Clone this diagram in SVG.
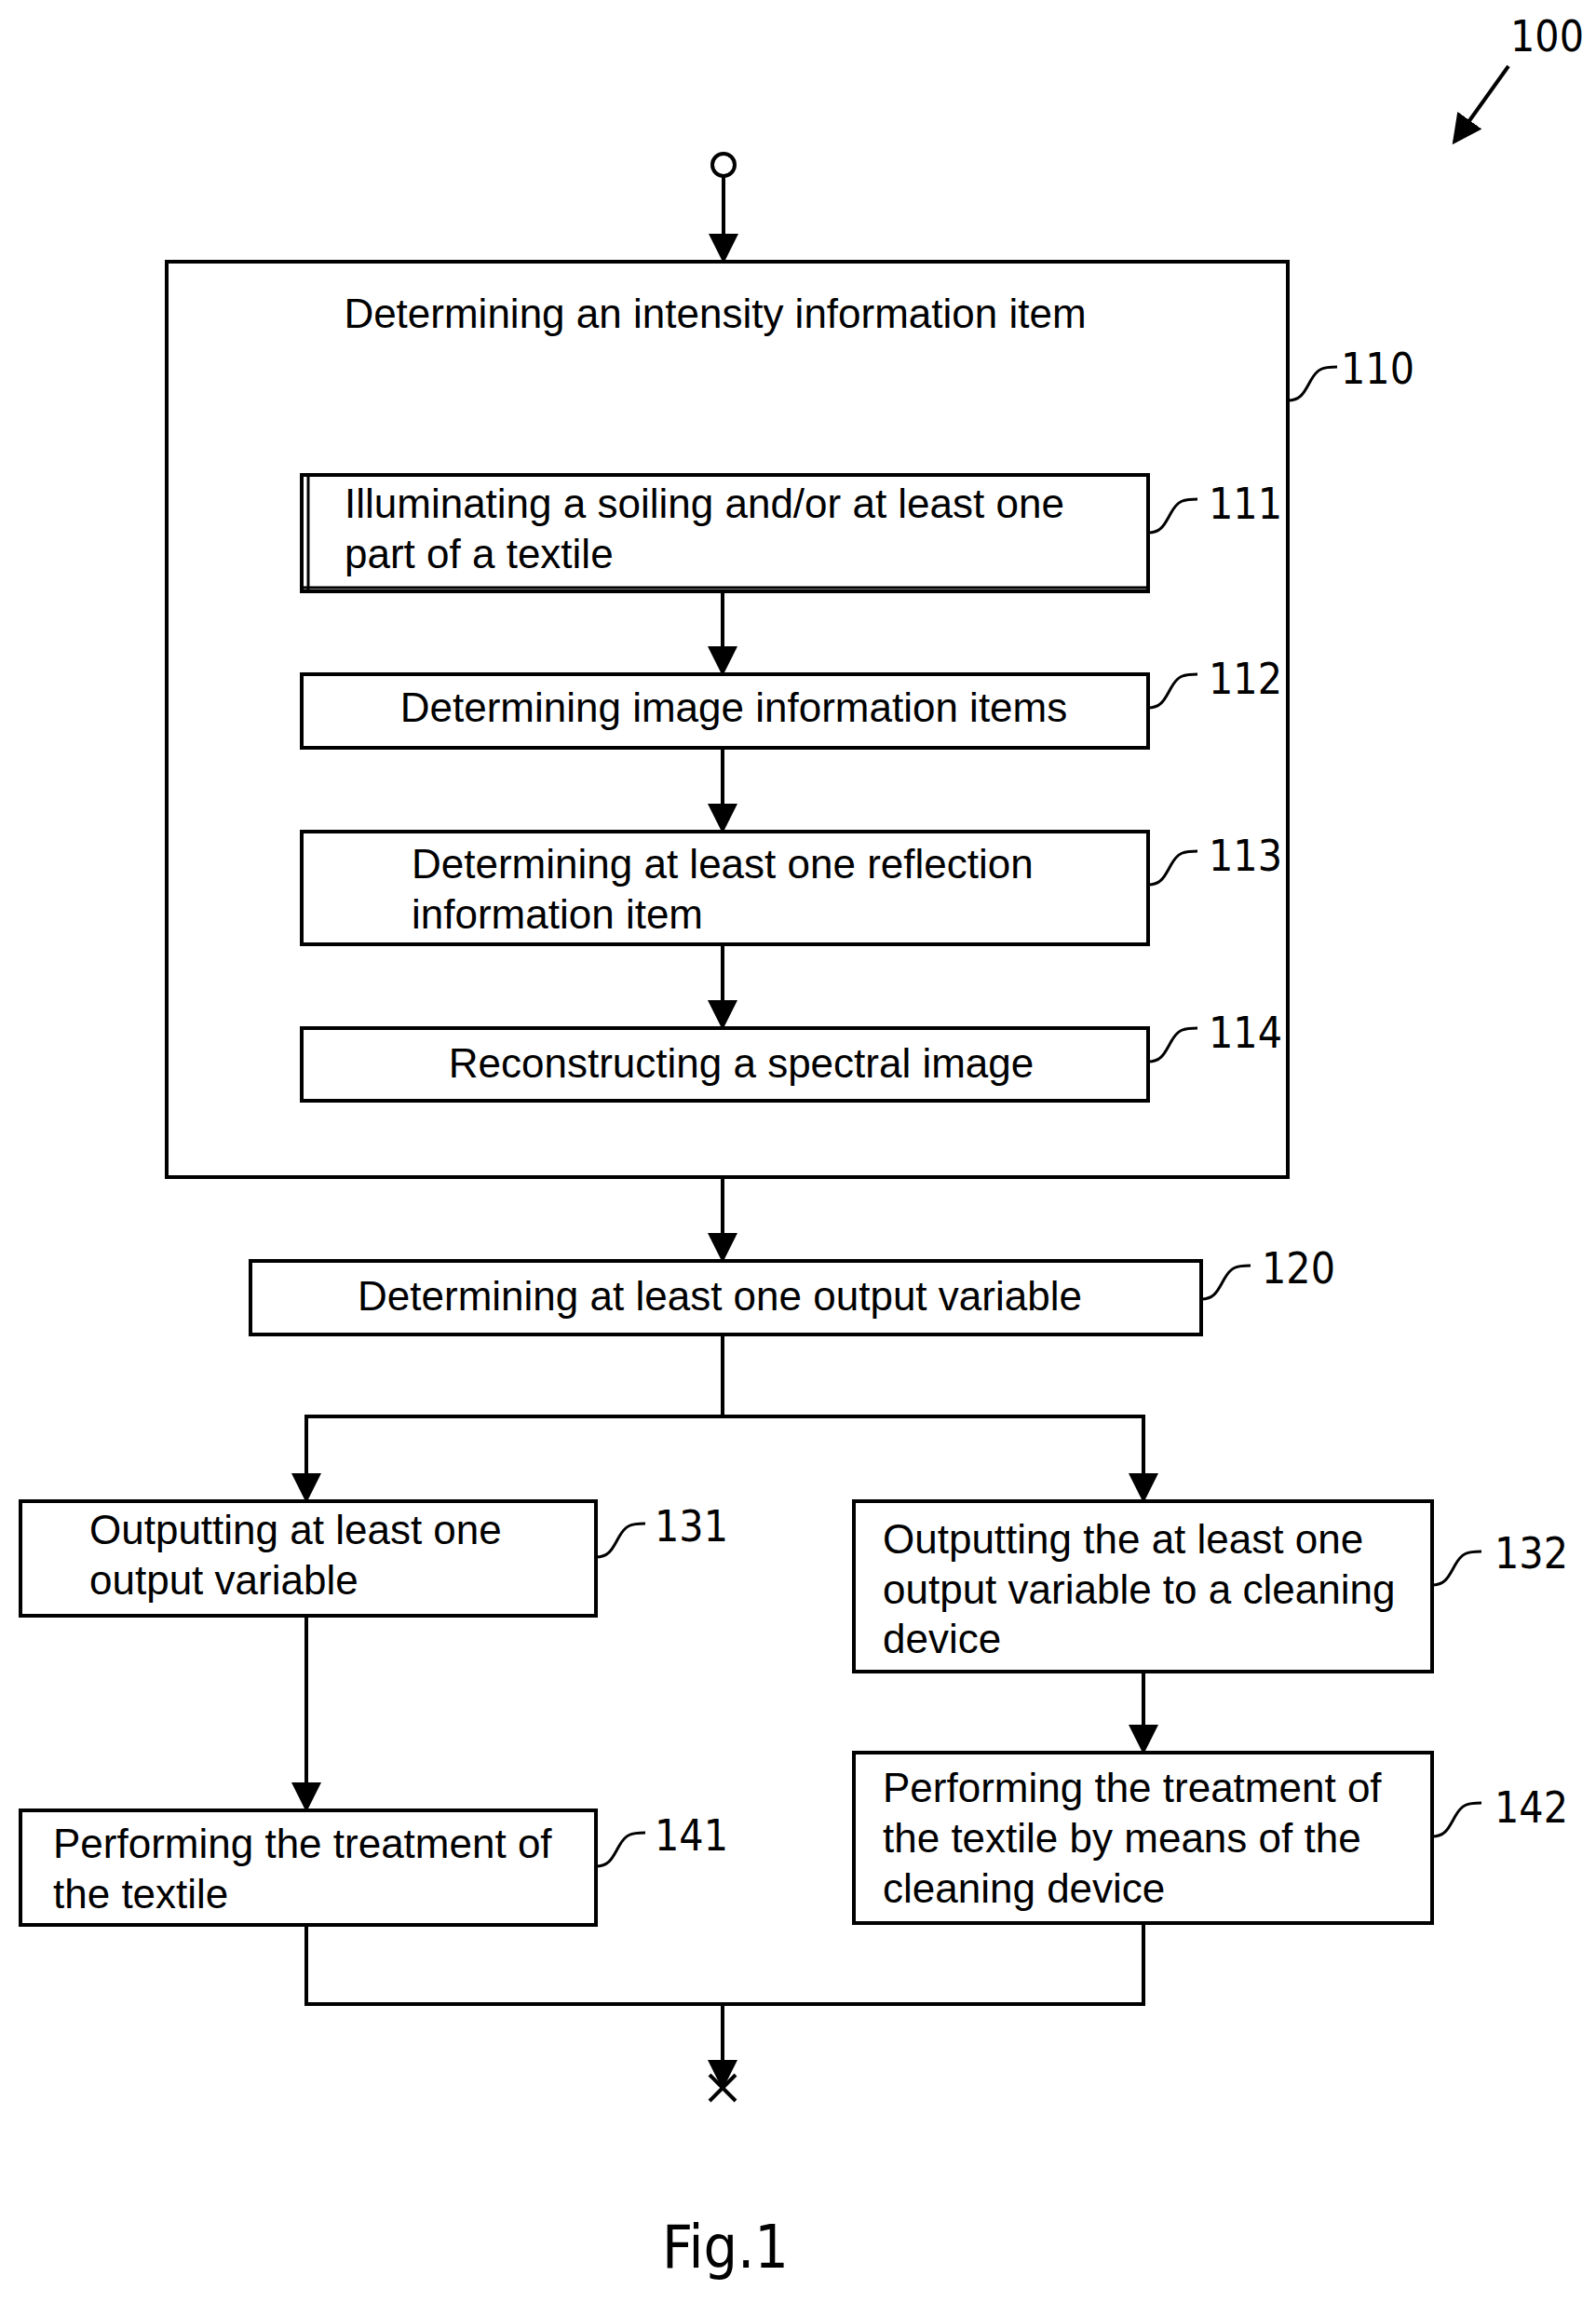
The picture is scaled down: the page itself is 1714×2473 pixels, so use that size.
<svg xmlns="http://www.w3.org/2000/svg" width="1714" height="2473" viewBox="0 0 1714 2473">
<defs>
<style>
.b{fill:#fff;stroke:#000;stroke-width:4}
.t{font-family:"Liberation Sans",Arial,sans-serif;font-size:44px;fill:#000}
.n{font-family:"DejaVu Sans Condensed","Liberation Sans",sans-serif;font-size:46px;fill:#000}
.l{fill:none;stroke:#000;stroke-width:4}
.c{fill:none;stroke:#000;stroke-width:3}
</style>
<marker id="a" markerWidth="8" markerHeight="8" refX="7" refY="4" orient="auto" markerUnits="strokeWidth"><path d="M0,0 L8,4 L0,8 z" fill="#000"/></marker>
</defs>
<rect width="1714" height="2473" fill="#fff"/>
<g id="ref100"><text class="n" x="1622" y="55">100</text><line class="l" x1="1620" y1="71" x2="1562" y2="152" marker-end="url(#a)"/></g>
<g id="start"><circle cx="777" cy="177" r="12" fill="#fff" stroke="#000" stroke-width="4"/></g>
<g id="n110"><rect class="b" x="179" y="281" width="1204" height="983"/><text class="t" x="768" y="352" text-anchor="middle">Determining an intensity information item</text><path class="c" d="M1383,430 c15,0 18,-10 25,-22 s12,-14 28,-14"/><text class="n" x="1440" y="412">110</text></g>
<g id="n111"><rect class="b" x="324" y="510" width="909" height="125"/><line x1="331" y1="512" x2="331" y2="635" stroke="#000" stroke-width="3"/><line x1="326" y1="631" x2="1233" y2="631" stroke="#000" stroke-width="3"/><text class="t" x="370" y="556">Illuminating a soiling and/or at least one</text><text class="t" x="370" y="610">part of a textile</text><path class="c" d="M1233,572 c15,0 18,-10 25,-22 s12,-14 28,-14"/><text class="n" x="1298" y="557">111</text></g>
<g id="n112"><rect class="b" x="324" y="724" width="909" height="79"/><text class="t" x="788" y="775" text-anchor="middle">Determining image information items</text><path class="c" d="M1233,760 c15,0 18,-10 25,-22 s12,-14 28,-14"/><text class="n" x="1298" y="745">112</text></g>
<g id="n113"><rect class="b" x="324" y="893" width="909" height="121"/><text class="t" x="442" y="943">Determining at least one reflection</text><text class="t" x="442" y="997">information item</text><path class="c" d="M1233,950 c15,0 18,-10 25,-22 s12,-14 28,-14"/><text class="n" x="1298" y="935">113</text></g>
<g id="n114"><rect class="b" x="324" y="1104" width="909" height="78"/><text class="t" x="796" y="1157" text-anchor="middle">Reconstructing a spectral image</text><path class="c" d="M1233,1140 c15,0 18,-10 25,-22 s12,-14 28,-14"/><text class="n" x="1298" y="1125">114</text></g>
<g id="n120"><rect class="b" x="269" y="1354" width="1021" height="79"/><text class="t" x="773" y="1407" text-anchor="middle">Determining at least one output variable</text><path class="c" d="M1290,1395 c15,0 18,-10 25,-22 s12,-14 28,-14"/><text class="n" x="1355" y="1378">120</text></g>
<g id="n131"><rect class="b" x="22" y="1612" width="618" height="123"/><text class="t" x="96" y="1658">Outputting at least one</text><text class="t" x="96" y="1712">output variable</text><path class="c" d="M640,1672 c15,0 18,-10 25,-22 s12,-14 28,-14"/><text class="n" x="703" y="1655">131</text></g>
<g id="n132"><rect class="b" x="917" y="1612" width="621" height="183"/><text class="t" x="948" y="1668">Outputting the at least one</text><text class="t" x="948" y="1722">output variable to a cleaning</text><text class="t" x="948" y="1775">device</text><path class="c" d="M1538,1702 c15,0 18,-10 25,-22 s12,-14 28,-14"/><text class="n" x="1605" y="1684">132</text></g>
<g id="n141"><rect class="b" x="22" y="1944" width="618" height="123"/><text class="t" x="57" y="1995">Performing the treatment of</text><text class="t" x="57" y="2049">the textile</text><path class="c" d="M640,2004 c15,0 18,-10 25,-22 s12,-14 28,-14"/><text class="n" x="703" y="1987">141</text></g>
<g id="n142"><rect class="b" x="917" y="1882" width="621" height="183"/><text class="t" x="948" y="1935">Performing the treatment of</text><text class="t" x="948" y="1989">the textile by means of the</text><text class="t" x="948" y="2043">cleaning device</text><path class="c" d="M1538,1972 c15,0 18,-10 25,-22 s12,-14 28,-14"/><text class="n" x="1605" y="1957">142</text></g>
<g id="connectors">
<line class="l" x1="777" y1="189" x2="777" y2="279" marker-end="url(#a)"/>
<line class="l" x1="776" y1="635" x2="776" y2="722" marker-end="url(#a)"/>
<line class="l" x1="776" y1="803" x2="776" y2="891" marker-end="url(#a)"/>
<line class="l" x1="776" y1="1014" x2="776" y2="1102" marker-end="url(#a)"/>
<line class="l" x1="776" y1="1264" x2="776" y2="1352" marker-end="url(#a)"/>
<polyline class="l" points="776,1433 776,1521"/>
<polyline class="l" points="329,1610 329,1521 1228,1521 1228,1610" marker-end="url(#a)"/>
<line class="l" x1="329" y1="1560" x2="329" y2="1610" marker-end="url(#a)"/>
<line class="l" x1="329" y1="1735" x2="329" y2="1942" marker-end="url(#a)"/>
<line class="l" x1="1228" y1="1795" x2="1228" y2="1880" marker-end="url(#a)"/>
<polyline class="l" points="329,2067 329,2152 1228,2152 1228,2065"/>
<line class="l" x1="776" y1="2152" x2="776" y2="2240" marker-end="url(#a)"/>
<line class="l" x1="762" y1="2228" x2="790" y2="2256"/><line class="l" x1="790" y1="2228" x2="762" y2="2256"/>
</g>
<text x="779" y="2435" text-anchor="middle" style="font-family:'DejaVu Sans Condensed','Liberation Sans',sans-serif;font-size:64px">Fig.1</text>
</svg>
